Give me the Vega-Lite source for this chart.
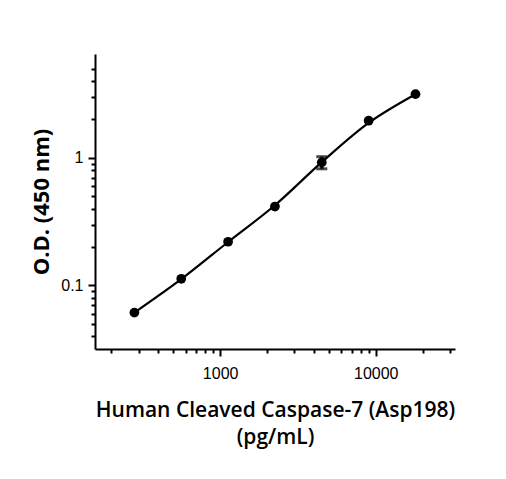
{
  "$schema": "https://vega.github.io/schema/vega-lite/v6.json",
  "autosize": {"type": "none"},
  "width": 360,
  "height": 295,
  "padding": {"left": 95, "top": 54, "right": 51, "bottom": 130},
  "background": "white",
  "config": {
    "view": {"stroke": null},
    "axis": {
      "domainColor": "black",
      "domainWidth": 2,
      "tickColor": "black",
      "tickWidth": 2,
      "grid": false,
      "labelFont": "Liberation Sans",
      "labelFontSize": 16,
      "labelColor": "black",
      "labelOverlap": false,
      "labelFlush": false,
      "titleFont": "Open Sans",
      "titleFontWeight": 600,
      "titleFontSize": 21,
      "titleColor": "black"
    }
  },
  "data": {
    "values": [
      {"conc": 281.25, "od": 0.0613, "fit": 0.0613},
      {"conc": 562.5, "od": 0.1128, "fit": 0.112},
      {"conc": 1125, "od": 0.220, "fit": 0.219},
      {"conc": 2250, "od": 0.415, "fit": 0.425},
      {"conc": 4500, "od": 0.920, "fit": 0.925, "lo": 0.82, "hi": 1.02},
      {"conc": 9000, "od": 1.952, "fit": 1.88},
      {"conc": 18000, "od": 3.15, "fit": 3.15}
    ]
  },
  "encoding": {
    "x": {
      "field": "conc",
      "type": "quantitative",
      "scale": {"type": "log", "domain": [157, 32300], "nice": false},
      "axis": {
        "title": ["Human Cleaved Caspase-7 (Asp198)", "(pg/mL)"],
        "titleLineHeight": 27,
        "titlePadding": 18,
        "values": [200, 300, 400, 500, 600, 700, 800, 900, 1000, 2000, 3000, 4000, 5000, 6000, 7000, 8000, 9000, 10000, 20000, 30000],
        "labelExpr": "datum.value == 1000 || datum.value == 10000 ? format(datum.value, 'd') : ''",
        "tickSize": {"condition": {"test": "datum.value == 1000 || datum.value == 10000", "value": 7}, "value": 4},
        "labelPadding": 9
      }
    },
    "y": {
      "field": "od",
      "type": "quantitative",
      "scale": {"type": "log", "domain": [0.0318, 6.5], "nice": false},
      "axis": {
        "title": "O.D. (450 nm)",
        "titleFontWeight": 700,
        "titleFontSize": 22,
        "titlePadding": 7,
        "values": [0.04, 0.05, 0.06, 0.07, 0.08, 0.09, 0.1, 0.2, 0.3, 0.4, 0.5, 0.6, 0.7, 0.8, 0.9, 1, 2, 3, 4, 5],
        "labelExpr": "datum.value == 0.1 || datum.value == 1 ? datum.label : ''",
        "tickSize": {"condition": {"test": "datum.value == 0.1 || datum.value == 1", "value": 7}, "value": 4},
        "labelPadding": 5
      }
    }
  },
  "layer": [
    {
      "mark": {"type": "line", "interpolate": "catmull-rom", "color": "black", "strokeWidth": 2.2},
      "encoding": {"y": {"field": "fit", "type": "quantitative"}}
    },
    {
      "mark": {"type": "point", "filled": true, "color": "black", "opacity": 1, "size": 95}
    },
    {
      "transform": [{"filter": "isValid(datum.lo)"}],
      "mark": {"type": "errorbar", "ticks": {"size": 11, "color": "black", "strokeWidth": 2.5}, "color": "black", "thickness": 3},
      "encoding": {
        "y": {"field": "lo", "type": "quantitative"},
        "y2": {"field": "hi"}
      }
    }
  ]
}
